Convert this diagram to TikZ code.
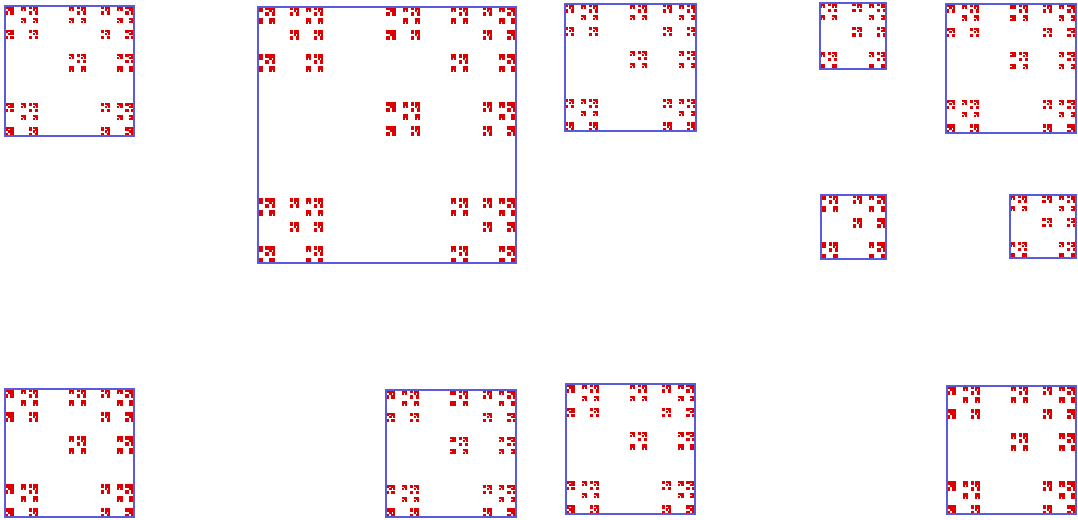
\documentclass[tikz,border=0pt]{standalone}
\definecolor{framecol}{RGB}{90,90,220}
\definecolor{dotcol}{RGB}{222,0,0}
\tikzset{
  framebox/.style={draw=framecol, line width=2pt},
  leafbox/.style={fill=dotcol}
}
\def\grow{0.6}
% recursive piece: x y w h
\newcommand\fpiece[4]{%
  \edef\px{#1}\edef\py{#2}\edef\pw{#3}\edef\ph{#4}%
  \ifdim\pw pt<2.6pt
    \fill[leafbox] (\px-\grow,\py-\grow) rectangle ++(\pw+2*\grow,\ph+2*\grow);
  \else
    \pgfmathsetmacro\wa{\pw/4}\pgfmathsetmacro\ha{\ph/4}%
    \pgfmathsetmacro\wb{\pw/8}\pgfmathsetmacro\hb{\ph/8}%
    \pgfmathsetmacro\xa{\px+0.75*\pw}\pgfmathsetmacro\ya{\py+0.75*\ph}%
    \pgfmathsetmacro\xb{\px+0.5*\pw}\pgfmathsetmacro\yb{\py+0.375*\ph}%
    \pgfmathsetmacro\xc{\px+0.875*\pw}%
    {\fpiece{\px}{\py}{\wa}{\ha}}%
    {\fpiece{\xa}{\py}{\wa}{\ha}}%
    {\fpiece{\px}{\ya}{\wa}{\ha}}%
    {\fpiece{\xa}{\ya}{\wa}{\ha}}%
    {\fpiece{\xb}{\py}{\wb}{\hb}}%
    {\fpiece{\xb}{\yb}{\wb}{\hb}}%
    {\fpiece{\xc}{\yb}{\wb}{\hb}}%
  \fi}
% framed square: x1 y1 x2 y2
\newcommand\fsquare[4]{%
  \pgfmathsetmacro\sqw{#3-#1}\pgfmathsetmacro\sqh{#4-#2}%
  {\fpiece{#1}{#2}{\sqw}{\sqh}}%
  \draw[framebox] (#1,#2) rectangle (#3,#4);}
\begin{document}
\begin{tikzpicture}[x=1pt,y=-1pt]
\useasboundingbox (0,0) rectangle (1078,519);
\fsquare{5}{6}{134}{136}
\fsquare{258}{7}{516}{263}
\fsquare{565}{4}{696}{131}
\fsquare{820}{3}{886}{69}
\fsquare{946}{4}{1076}{133}
\fsquare{821}{195}{886}{259}
\fsquare{1010}{195}{1076}{258}
\fsquare{5}{389}{134}{517}
\fsquare{386}{390}{516}{517}
\fsquare{566}{384}{695}{514}
\fsquare{947}{386}{1076}{514}
\end{tikzpicture}
\end{document}
